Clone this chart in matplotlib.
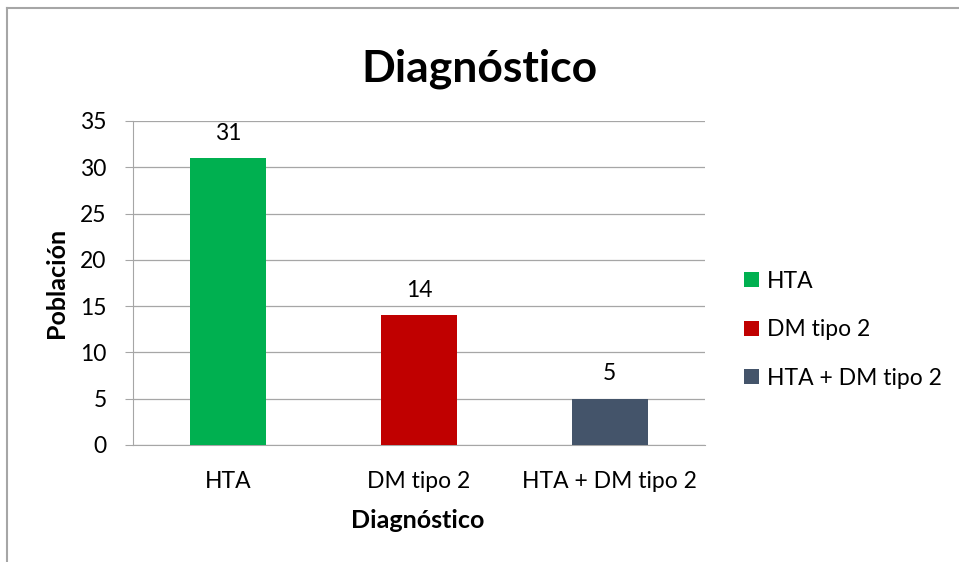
import matplotlib.pyplot as plt
from matplotlib.patches import Patch

categories = ["HTA", "DM tipo 2", "HTA + DM tipo 2"]
values = [31, 14, 5]
colors = ["#00B050", "#C00000", "#44546A"]
yticks = [0, 5, 10, 15, 20, 25, 30, 35]

plt.rcParams['font.family'] = ['Lato', 'DejaVu Sans']

fig = plt.figure(figsize=(9.59, 5.62), dpi=100)
ax = fig.add_axes([0.1387, 0.2082, 0.5965, 0.5765])

x = range(len(categories))
bars = ax.bar(x, values, width=0.4, color=colors, zorder=3)
for b, v in zip(bars, values):
    ax.annotate(str(v), (b.get_x() + b.get_width() / 2, v),
                xytext=(0, 18), textcoords='offset points',
                ha='center', va='center', fontsize=16.5, color='#000000')

ax.set_xlim(-0.5, len(categories) - 0.5)
ax.set_ylim(0, 35)
ax.set_yticks(yticks)
ax.set_xticks(list(x))
ax.set_xticklabels(categories, fontsize=16.5)
ax.tick_params(axis='y', labelsize=16.5, length=6, color='#A6A6A6', pad=13)
ax.tick_params(axis='x', length=0, pad=19)
ax.yaxis.grid(True, color='#A6A6A6', linewidth=0.9, zorder=0)
for s in ['top', 'right']:
    ax.spines[s].set_visible(False)
ax.spines['left'].set_color('#A6A6A6')
ax.spines['bottom'].set_color('#A6A6A6')

ax.set_xlabel("Diagnóstico", fontsize=18, fontweight='bold')
ax.set_ylabel("Población", fontsize=18, fontweight='bold')
ax.xaxis.set_label_coords(418 / 959, 1 - 521 / 562, transform=fig.transFigure)
ax.yaxis.set_label_coords(57 / 959, 1 - 283 / 562, transform=fig.transFigure)
ax.xaxis.label.set_va('center')
ax.yaxis.label.set_va('center')
fig.text(0.5, 0.877, "Diagnóstico", ha='center', va='center',
         fontsize=32, fontweight='bold')

handles = [Patch(facecolor=c, label=l) for c, l in zip(colors, categories)]
fig.legend(handles=handles, loc='center left', bbox_to_anchor=(0.7545, 0.413),
           frameon=False, fontsize=16.5, handlelength=0.65, handleheight=0.65,
           handletextpad=0.35, labelspacing=1.2)

# chart frame
fig.add_artist(plt.Line2D([0.0075, 0.0075], [0, 0.986], color='#A6A6A6', lw=1.5))
fig.add_artist(plt.Line2D([0.0075, 1.0], [0.986, 0.986], color='#A6A6A6', lw=1.5))

fig.savefig("out.png", dpi=100)
